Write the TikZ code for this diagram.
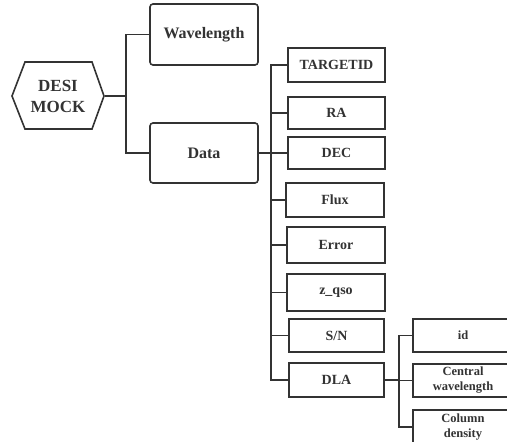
\documentclass[tikz,border=0pt]{standalone}
\usepackage{fontspec}
\setmainfont{Liberation Serif}
\begin{document}
\begin{tikzpicture}[x=1pt,y=-1pt,
  line width=1.6pt,
  ink/.style={draw=black!80},
  topbox/.style={ink, rounded corners=3pt, fill=white, text=black!80, font=\bfseries\fontsize{16}{19}\selectfont, minimum width=108pt, inner sep=0pt},
  midbox/.style={ink, fill=white, text=black!80, font=\bfseries\fontsize{14}{17}\selectfont, inner sep=0pt},
  lowbox/.style={ink, fill=white, text=black!80, font=\bfseries\fontsize{12.5}{15}\selectfont, inner sep=0pt, align=center, minimum width=100pt},
  conn/.style={draw=black!80, line width=1.8pt}
]
\useasboundingbox (0,0) rectangle (507,442);
\begin{scope}
\clip (0,0) rectangle (507,442);
% hexagon
\draw[ink, fill=white] (12,96) -- (25,62) -- (92,62) -- (104,96) -- (92,129) -- (25,129) -- cycle;
\node[text=black!80, font=\bfseries\fontsize{17}{21}\selectfont, align=center, minimum width=92pt, minimum height=67pt, inner sep=0pt] (desi) at (58,96) {DESI\\MOCK};

% first level
\node[topbox, minimum height=61pt] (wave) at (204,34.5) {Wavelength};
\node[topbox, minimum height=60pt] (data) at (204,153) {Data};

% second level
\node[midbox, minimum width=97pt, minimum height=34pt] (tid) at (336.5,65) {TARGETID};
\node[midbox, minimum width=97pt, minimum height=32pt] (ra) at (336.5,113) {RA};
\node[midbox, minimum width=97pt, minimum height=32pt] (dec) at (336.5,153) {DEC};
\node[midbox, minimum width=98pt, minimum height=34pt] (flux) at (335,200) {Flux};
\node[midbox, minimum width=98pt, minimum height=36pt] (err) at (336,245) {Error};
\node[midbox, minimum width=98pt, minimum height=37pt] (zq) at (336,292.5) {z\_qso};
\node[midbox, minimum width=95pt, minimum height=33pt] (sn) at (336.5,335.5) {S/N};
\node[midbox, minimum width=95pt, minimum height=34pt] (dla) at (336.5,380) {DLA};

% third level
\node[lowbox, minimum height=33pt] (id) at (463,335.5) {id};
\node[lowbox, minimum height=33pt] (cw) at (463,380.5) {Central\\wavelength};
\node[lowbox, minimum height=34pt] (cd) at (463,427) {Column\\density};

% connectors level 1
\coordinate (j1) at (127,96);
\draw[conn] (desi.east) -- (j1);
\draw[conn] (wave.west) -- ++(-23,0) |- (data.west);

% connectors level 2
\coordinate (j2) at (272,153);
\draw[conn] (data.east) -- (j2);
\draw[conn] (tid.west) -- ++(-16,0) |- (dla.west);
\foreach \n in {ra,dec,flux,err,zq,sn}{
  \draw[conn] (\n.west) -- (\n.west -| j2);
}

% connectors level 3
\coordinate (j3) at (399,380);
\draw[conn] (dla.east) -- (j3);
\draw[conn] (id.west) -- (id.west -| j3) |- (cd.west);
\draw[conn] (cw.west) -- (cw.west -| j3);
\end{scope}
\end{tikzpicture}
\end{document}
